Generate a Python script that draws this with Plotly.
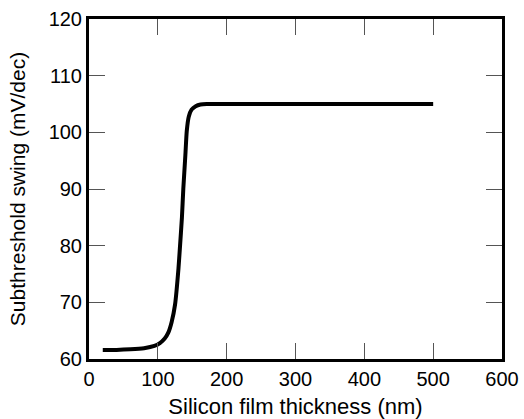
import plotly.graph_objects as go

thickness_nm = [20, 40, 60, 80, 95, 103, 110, 115, 120, 125, 130, 132, 135, 137, 140, 142, 145, 149, 155, 162, 171, 185, 200, 300, 400, 500]
swing_mv_dec = [61.6, 61.6, 61.7, 61.9, 62.3, 62.8, 63.6, 64.6, 66.5, 69.6, 76.0, 79.5, 85.0, 90.0, 96.0, 100.2, 102.8, 104.0, 104.6, 104.9, 105.0, 105.0, 105.0, 105.0, 105.0, 105.0]

x_ticks = [0, 100, 200, 300, 400, 500, 600]
y_ticks = [60, 70, 80, 90, 100, 110, 120]

fig = go.Figure()
fig.add_trace(go.Scatter(
    x=thickness_nm, y=swing_mv_dec, mode="lines",
    line=dict(color="black", width=4, shape="spline", smoothing=0.5),
    showlegend=False,
))

font = "Liberation Sans, Arial, Helvetica, sans-serif"
axis_common = dict(
    showgrid=False, zeroline=False, automargin=False,
    showline=True, linecolor="black", linewidth=3, mirror="ticks",
    ticks="inside", ticklen=16, tickwidth=1, tickcolor="#555555",
    tickfont=dict(family=font, size=20, color="black"),
)
fig.update_xaxes(range=[0, 600], tickvals=x_ticks,
                 title=dict(text="Silicon film thickness (nm)", font=dict(family=font, size=22, color="black"), standoff=10),
                 **axis_common)
fig.update_yaxes(range=[60, 120], tickvals=y_ticks,
                 title=dict(text="Subthreshold swing (mV/dec)", font=dict(family=font, size=21, color="black"), standoff=18),
                 **axis_common)
fig.update_layout(
    width=524, height=419,
    margin=dict(l=89, r=22, t=19, b=60),
    plot_bgcolor="white", paper_bgcolor="white",
)
fig.write_html("out.html")
